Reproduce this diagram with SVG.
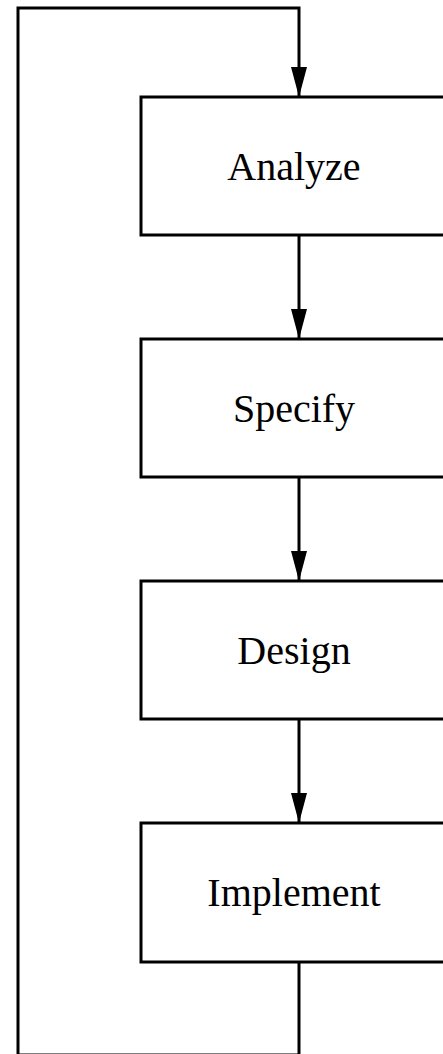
<svg xmlns="http://www.w3.org/2000/svg" width="443" height="1054" viewBox="0 0 443 1054">
<defs>
<style>
.box{fill:#fff;stroke:#000;stroke-width:3}
.lbl{font-family:"Liberation Serif",serif;font-size:40px;fill:#000;text-anchor:middle}
.con{fill:none;stroke:#000;stroke-width:3}
</style>
<marker id="ah" markerUnits="userSpaceOnUse" markerWidth="30" markerHeight="16" refX="30" refY="8" orient="auto">
<path d="M0,0 L30,8 L0,16 Z" fill="#000"/>
</marker>
</defs>
<g id="connectors">
<path class="con" d="M299,962 L299,1055 L18,1055 L18,8 L299,8 L299,97" marker-end="url(#ah)"/>
<path class="con" d="M299,235 L299,339" marker-end="url(#ah)"/>
<path class="con" d="M299,477 L299,581" marker-end="url(#ah)"/>
<path class="con" d="M299,719 L299,823" marker-end="url(#ah)"/>
</g>
<g id="analyze"><rect class="box" x="141" y="97" width="320" height="138"/><text class="lbl" x="294" y="180">Analyze</text></g>
<g id="specify"><rect class="box" x="141" y="339" width="320" height="138"/><text class="lbl" x="294" y="422">Specify</text></g>
<g id="design"><rect class="box" x="141" y="581" width="320" height="138"/><text class="lbl" x="294" y="664">Design</text></g>
<g id="implement"><rect class="box" x="141" y="823" width="320" height="139"/><text class="lbl" x="294" y="906">Implement</text></g>
</svg>
